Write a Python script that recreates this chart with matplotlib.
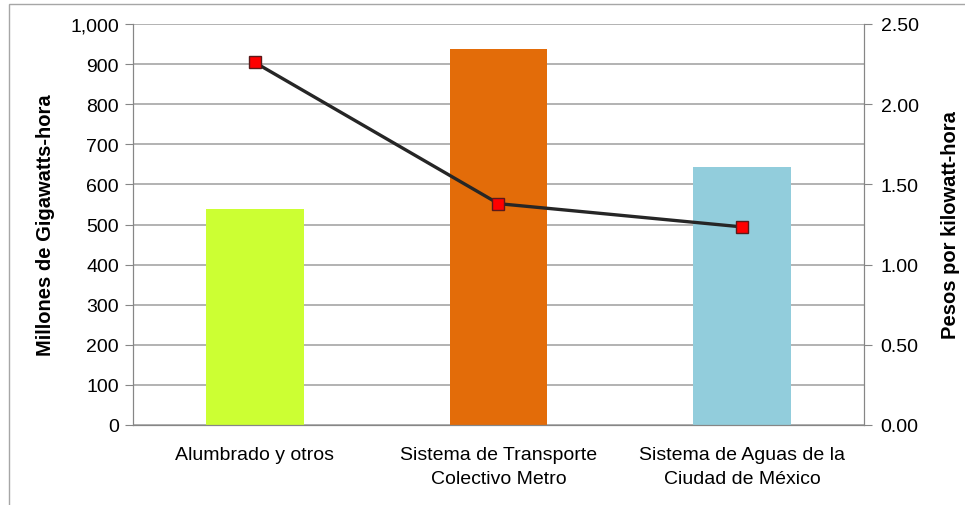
import matplotlib
matplotlib.use("Agg")
import matplotlib.pyplot as plt
from matplotlib.patches import Rectangle

plt.rcParams['font.family'] = ['Liberation Sans', 'DejaVu Sans']

categories = ["Alumbrado y otros", "Sistema de Transporte\nColectivo Metro",
              "Sistema de Aguas de la\nCiudad de México"]
consumo_gwh = [538, 938, 643]
precio_kwh = [2.26, 1.38, 1.235]
bar_colors = ["#ccff33", "#e36c09", "#92cddc"]
left_ticks = list(range(0, 1001, 100))
right_ticks = [0.0, 0.5, 1.0, 1.5, 2.0, 2.5]

W, H = 965, 506
fig = plt.figure(figsize=(W / 100, H / 100), dpi=100)
ax = fig.add_axes([133 / W, 1 - 426 / H, (864 - 133) / W, (426 - 25) / H])

x = list(range(len(categories)))
ax.bar(x, consumo_gwh, width=0.4, color=bar_colors, zorder=2)
ax.set_xlim(-0.5, len(categories) - 0.5)
ax.set_ylim(0, 1000)
ax.set_yticks(left_ticks)
ax.set_yticklabels([f"{v:,}" for v in left_ticks])
ax.yaxis.grid(True, color="#a6a6a6", linewidth=1.2, zorder=0)
ax.set_axisbelow(True)
ax.set_xticks(x)
ax.set_xticklabels(categories, fontsize=14, linespacing=1.55)
ax.tick_params(axis='x', length=0, pad=15)
ax.tick_params(axis='y', labelsize=14, length=6, color="#868686", pad=4)
ax.set_ylabel("Millones de Gigawatts-hora", fontsize=14.5, fontweight='bold', labelpad=11)
ax.spines["top"].set_visible(False)
for s in ["left", "right", "bottom"]:
    ax.spines[s].set_color("#868686")

ax2 = ax.twinx()
ax2.plot(x, precio_kwh, color="#262626", linewidth=2.4, marker='s', markersize=9,
         markerfacecolor="#ff0000", markeredgecolor="#5a1a1a", markeredgewidth=1, zorder=3)
ax2.set_ylim(0, 2.5)
ax2.set_yticks(right_ticks)
ax2.set_yticklabels([f"{v:.2f}" for v in right_ticks])
ax2.tick_params(axis='y', labelsize=14, length=6, color="#868686", pad=6)
ax2.set_ylabel("Pesos por kilowatt-hora", fontsize=14.5, fontweight='bold', labelpad=16)
ax2.spines["top"].set_visible(False)
for s in ["left", "right", "bottom"]:
    ax2.spines[s].set_color("#868686")

fig.patches.append(Rectangle((9 / W, -0.1), 1.1, 1 - 5 / H + 0.1, transform=fig.transFigure,
                             fill=False, edgecolor="#a6a6a6", linewidth=1))

fig.savefig("out.png", dpi=100)
